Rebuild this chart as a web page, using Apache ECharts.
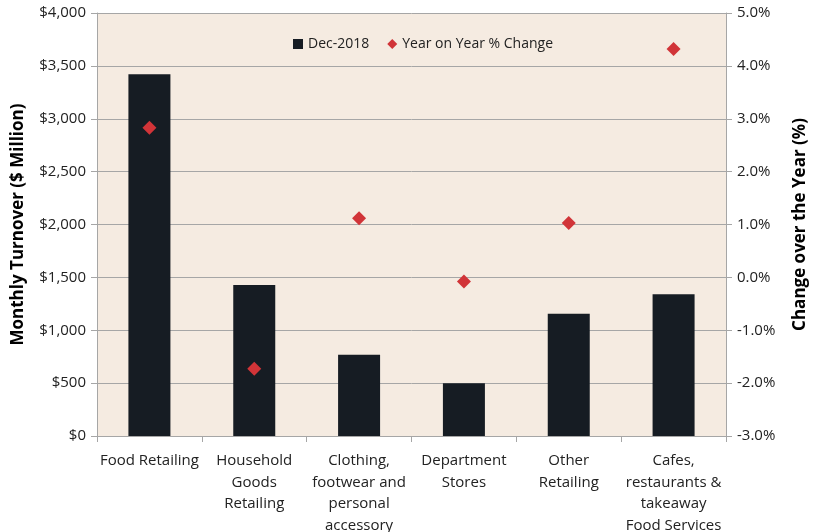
<!DOCTYPE html>
<html>
<head>
<meta charset="utf-8">
<script src="https://cdn.jsdelivr.net/npm/echarts@6/dist/echarts.min.js"></script>
<style>
  html, body { margin: 0; padding: 0; background: #fff; }
  #main { width: 823px; height: 532px; }
</style>
</head>
<body>
<div id="main"></div>
<script>
// data
var categories = [
  "Food Retailing",
  "Household\nGoods\nRetailing",
  "Clothing,\nfootwear and\npersonal\naccessory",
  "Department\nStores",
  "Other\nRetailing",
  "Cafes,\nrestaurants &\ntakeaway\nFood Services"
];
var turnover = [3420, 1428, 769, 500, 1157, 1340]; // Dec-2018, $ million
var yoyChange = [2.83, -1.73, 1.12, -0.08, 1.03, 4.32]; // %

var font = "'Open Sans', 'Noto Sans', sans-serif";
var gridColor = "#a6a6a6";

var myChart = echarts.init(document.getElementById("main"));
var option = {
  textStyle: { fontFamily: font },
  animation: false,
  legend: {
    top: 32,
    left: 288,
    itemGap: 18,
    itemWidth: 10,
    itemHeight: 10,
    textStyle: { fontSize: 14, color: "#222", fontFamily: font },
    data: [
      { name: "Dec-2018", icon: "rect" },
      { name: "Year on Year % Change", icon: "diamond" }
    ]
  },
  grid: {
    left: 97,
    right: 97,
    top: 13,
    bottom: 96,
    containLabel: false,
    outerBoundsMode: "none",
    show: true,
    backgroundColor: "#f5ebe1",
    borderWidth: 0
  },
  xAxis: {
    type: "category",
    data: categories,
    axisLine: { lineStyle: { color: gridColor } },
    axisTick: { show: true, alignWithLabel: false, length: 6, lineStyle: { color: gridColor } },
    axisLabel: {
      interval: 0,
      color: "#222",
      fontSize: 15,
      lineHeight: 21.5,
      margin: 14,
      fontFamily: font
    }
  },
  yAxis: [
    {
      type: "value",
      min: 0,
      max: 4000,
      interval: 500,
      name: "Monthly Turnover ($ Million)",
      nameLocation: "middle",
      nameGap: 70,
      nameTextStyle: { fontSize: 17, fontWeight: "bold", color: "#000", fontFamily: font },
      axisLine: { show: true, lineStyle: { color: gridColor } },
      axisTick: { show: true, length: 6, lineStyle: { color: gridColor } },
      splitLine: { lineStyle: { color: gridColor } },
      axisLabel: {
        color: "#222",
        fontSize: 15,
        margin: 11,
        fontFamily: font,
        formatter: function (v) { return "$" + v.toLocaleString("en-US"); }
      }
    },
    {
      type: "value",
      min: -3,
      max: 5,
      interval: 1,
      name: "Change over the Year (%)",
      nameLocation: "middle",
      nameGap: 66,
      nameRotate: 90,
      nameTextStyle: { fontSize: 17, fontWeight: "bold", color: "#000", fontFamily: font },
      axisLine: { show: true, lineStyle: { color: gridColor } },
      axisTick: { show: true, length: 6, lineStyle: { color: gridColor } },
      splitLine: { show: false },
      axisLabel: {
        color: "#222",
        fontSize: 15,
        margin: 11,
        fontFamily: font,
        formatter: function (v) { return v.toFixed(1) + "%"; }
      }
    }
  ],
  series: [
    {
      name: "Dec-2018",
      type: "bar",
      yAxisIndex: 0,
      barWidth: 42,
      itemStyle: { color: "#161c23" },
      data: turnover
    },
    {
      name: "Year on Year % Change",
      type: "scatter",
      yAxisIndex: 1,
      symbol: "diamond",
      symbolSize: 14,
      itemStyle: { color: "#d13438", opacity: 1 },
      z: 5,
      data: yoyChange
    }
  ]
};

option && myChart.setOption(option);
</script>
</body>
</html>
